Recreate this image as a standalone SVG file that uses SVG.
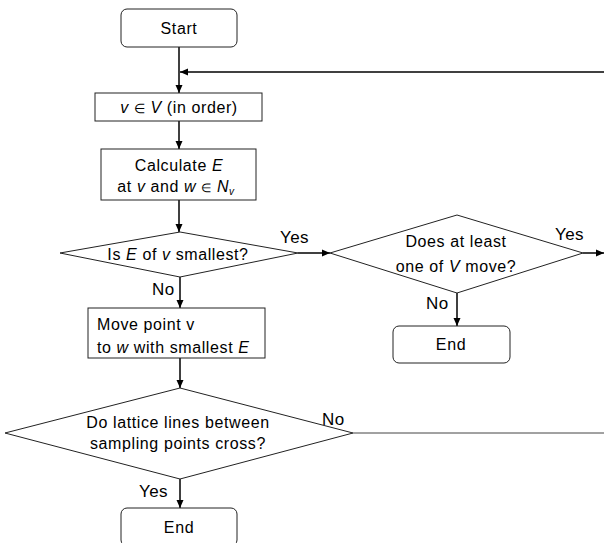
<svg xmlns="http://www.w3.org/2000/svg" width="604" height="543" viewBox="0 0 604 543">
<defs>
<marker id="ah" markerUnits="userSpaceOnUse" markerWidth="9" markerHeight="8" refX="8" refY="4" orient="auto">
<path d="M0,0.5 L8,4 L0,7.5 z" fill="#000"/>
</marker>
<style>
.box{fill:#fff;stroke:#222;stroke-width:1}
.dia{fill:#fff;stroke:#222;stroke-width:1}
.t{font-family:"Liberation Sans",Arial,sans-serif;font-size:16px;letter-spacing:0.6px;fill:#000}
.lb{font-family:"Liberation Sans",Arial,sans-serif;font-size:17px;letter-spacing:0.4px;fill:#000}
.m{text-anchor:middle}
.i{font-style:italic}
.c{fill:none;stroke:#000;stroke-width:1.5}
</style>
</defs>
<g id="connectors">
<line class="c" x1="179" y1="47" x2="179" y2="93" marker-end="url(#ah)"/>
<line class="c" x1="604" y1="72" x2="180" y2="72" stroke-width="2" marker-end="url(#ah)"/>
<line class="c" x1="179" y1="121" x2="179" y2="149" marker-end="url(#ah)"/>
<line class="c" x1="179" y1="200" x2="179" y2="232" marker-end="url(#ah)"/>
<line class="c" x1="298" y1="253" x2="330" y2="253" marker-end="url(#ah)"/>
<line class="c" x1="180" y1="277" x2="180" y2="308" marker-end="url(#ah)"/>
<line class="c" x1="583" y1="253" x2="604" y2="253" marker-end="url(#ah)"/>
<line class="c" x1="457" y1="293" x2="457" y2="326" marker-end="url(#ah)"/>
<line class="c" x1="180" y1="358" x2="180" y2="388" marker-end="url(#ah)"/>
<line x1="353" y1="433" x2="604" y2="433" stroke="#444" stroke-width="1"/>
<line class="c" x1="180" y1="479" x2="180" y2="508" marker-end="url(#ah)"/>
<text class="lb" x="280" y="243">Yes</text>
<text class="lb" x="152" y="295">No</text>
<text class="lb" x="555" y="240">Yes</text>
<text class="lb" x="426" y="309">No</text>
<text class="lb" x="322" y="425">No</text>
<text class="lb" x="139" y="497">Yes</text>
</g>
<g id="start">
<rect class="box" x="121" y="9" width="116" height="38" rx="6"/>
<text class="t m" x="179" y="34">Start</text>
</g>
<g id="iterate">
<rect class="box" x="95" y="93" width="167" height="28"/>
<text class="t m" x="179" y="113"><tspan class="i">v</tspan> <tspan font-size="13">∈</tspan> <tspan class="i">V</tspan> (in order)</text>
</g>
<g id="calculate">
<rect class="box" x="101" y="149" width="155" height="51"/>
<text class="t m" x="179" y="171">Calculate <tspan class="i">E</tspan></text>
<text class="t m" x="176" y="192">at <tspan class="i">v</tspan> and <tspan class="i">w</tspan> <tspan font-size="12">∈</tspan> <tspan class="i">N</tspan><tspan class="i" font-size="10" dy="3">v</tspan></text>
</g>
<g id="smallest">
<polygon class="dia" points="180,232 298,253 180,277 60,253"/>
<text class="t m" x="178" y="260">Is <tspan class="i">E</tspan> of <tspan class="i">v</tspan> smallest?</text>
</g>
<g id="anymove">
<polygon class="dia" points="457,215 583,253 457,293 330,253"/>
<text class="t m" x="456" y="247">Does at least</text>
<text class="t m" x="456" y="272">one of <tspan class="i">V</tspan> move?</text>
</g>
<g id="end1">
<rect class="box" x="393" y="326" width="117" height="37" rx="6"/>
<text class="t m" x="451" y="350">End</text>
</g>
<g id="move">
<rect class="box" x="88" y="308" width="177" height="50"/>
<text class="t" x="97" y="330">Move point v</text>
<text class="t" x="97" y="353">to <tspan class="i">w</tspan> with smallest <tspan class="i">E</tspan></text>
</g>
<g id="cross">
<polygon class="dia" points="180,388 353,433 180,479 5,433"/>
<text class="t m" x="178" y="428">Do lattice lines between</text>
<text class="t m" x="178" y="449">sampling points cross?</text>
</g>
<g id="end2">
<rect class="box" x="121" y="508" width="116" height="38" rx="6"/>
<text class="t m" x="179" y="533">End</text>
</g>
</svg>
